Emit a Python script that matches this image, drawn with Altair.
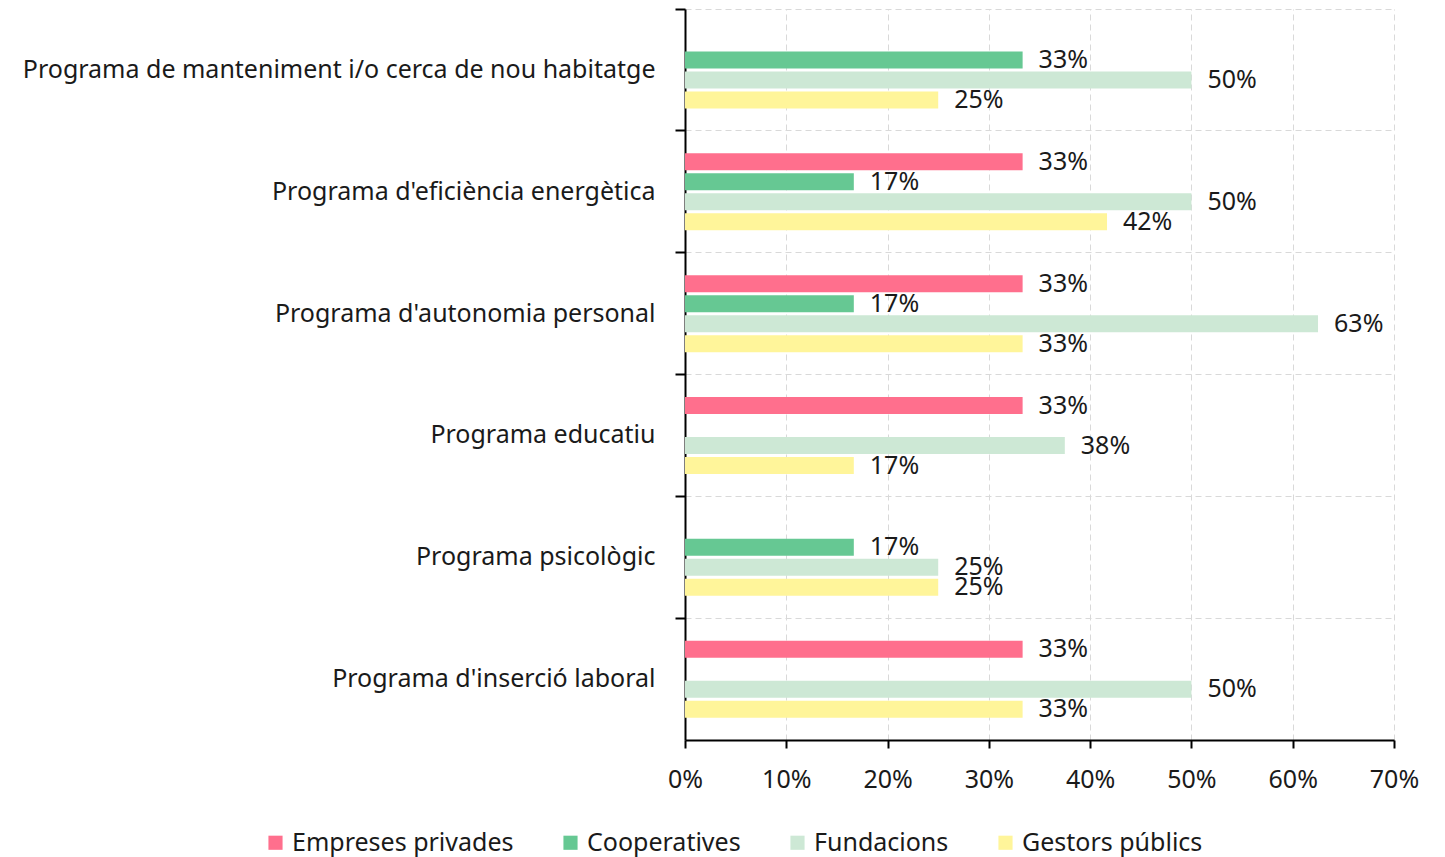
import altair as alt
import pandas as pd

programs = [
    "Programa de manteniment i/o cerca de nou habitatge",
    "Programa d'eficiència energètica",
    "Programa d'autonomia personal",
    "Programa educatiu",
    "Programa psicològic",
    "Programa d'inserció laboral",
]
groups = ["Empreses privades", "Cooperatives", "Fundacions", "Gestors públics"]
colors = ["#FF6F8D", "#66C893", "#CDE8D5", "#FFF59A"]

empreses = [None, 1/3, 1/3, 1/3, None, 1/3]
cooperatives = [1/3, 1/6, 1/6, None, 1/6, None]
fundacions = [0.5, 0.5, 0.625, 0.375, 0.25, 0.5]
gestors = [0.25, 5/12, 1/3, 1/6, 0.25, 1/3]

rows = []
for g, vals in zip(groups, [empreses, cooperatives, fundacions, gestors]):
    for p, v in zip(programs, vals):
        if v is not None:
            rows.append({"programa": p, "grup": g, "valor": v})
df = pd.DataFrame(rows)

FONT = "Noto Sans"
FS = 25

y_scale = alt.Scale(domain=programs, paddingInner=0, paddingOuter=0)
yoff_scale = alt.Scale(domain=groups, range=[21, 101], paddingInner=0.15, paddingOuter=0.075)
x_scale = alt.Scale(domain=[0, 0.7])

x_enc = alt.X(
    "valor:Q", scale=x_scale, title=None,
    axis=alt.Axis(format=".0%", values=[0, 0.1, 0.2, 0.3, 0.4, 0.5, 0.6, 0.7],
                  grid=True, gridDash=[6, 4], gridColor="#d9d9d9", labelFlush=False,
                  domainColor="black", domainWidth=2, tickColor="black", tickWidth=2,
                  tickSize=8, labelFontSize=FS, labelFont=FONT, labelColor="#1a1a1a",
                  labelPadding=19),
)

bars = alt.Chart(df).mark_bar(size=17).encode(
    x=x_enc,
    y=alt.Y("programa:N", scale=y_scale, sort=programs, title=None,
            axis=alt.Axis(orient="left", bandPosition=0, labels=False, grid=True,
                          gridDash=[6, 4], gridColor="#d9d9d9", domainColor="black",
                          domainWidth=2, tickColor="black", tickWidth=2, tickSize=10)),
    yOffset=alt.YOffset("grup:N", scale=yoff_scale, sort=groups),
    color=alt.Color("grup:N", scale=alt.Scale(domain=groups, range=colors), sort=groups,
                    legend=alt.Legend(title=None, orient="none", direction="horizontal",
                                      legendX=-422, legendY=821, symbolType="square",
                                      symbolSize=200, symbolStrokeWidth=0,
                                      labelFontSize=FS, labelFont=FONT, labelColor="#1a1a1a",
                                      columnPadding=44, labelOffset=4, padding=0,
                                      labelLimit=400)),
)

labels = alt.Chart(df).mark_text(align="left", baseline="middle", dx=16,
                                 fontSize=FS, font=FONT, color="#1a1a1a").encode(
    x=alt.X("valor:Q", scale=x_scale),
    y=alt.Y("programa:N", scale=y_scale, sort=programs, title=None,
            axis=alt.Axis(orient="left", ticks=False, grid=False, domain=False,
                          labelFontSize=FS, labelFont=FONT, labelColor="#1a1a1a",
                          labelPadding=30, labelLimit=800)),
    yOffset=alt.YOffset("grup:N", scale=yoff_scale, sort=groups),
    text=alt.Text("valor:Q", format=".0%"),
)

chart = alt.layer(bars, labels).resolve_axis(y="independent").properties(
    width=709, height=731,
    padding={"left": 14, "top": 0, "right": 5, "bottom": 5},
).configure_view(stroke=None)

chart.save("out.html", embed_options={"renderer": "svg", "actions": False})
